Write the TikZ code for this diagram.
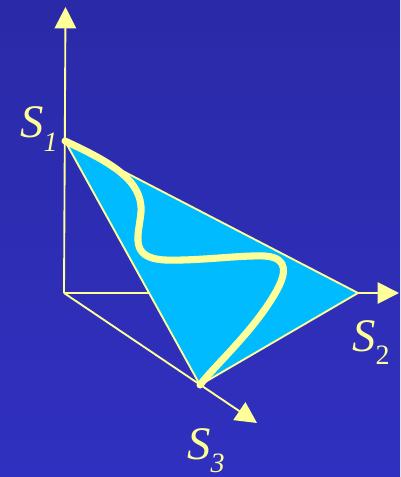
\documentclass[tikz,border=0pt]{standalone}
\usepackage{fontspec}
\setmainfont{Liberation Serif}
\usetikzlibrary{arrows.meta}
\definecolor{bgtop}{HTML}{2A2AA8}
\definecolor{bgbot}{HTML}{3030C0}
\definecolor{lyel}{HTML}{FFFF99}
\definecolor{cyanfill}{HTML}{00BBFF}
\tikzset{
  axisline/.style={draw=lyel, line width=1.4pt, -{Triangle[length=16pt,width=16pt]}, lyel},
  edgeline/.style={draw=lyel, line width=1.4pt, line join=round},
  pathline/.style={draw=lyel, line width=5.3pt, line cap=round, line join=round},
  lab/.style={text=lyel, inner sep=0pt, anchor=base west}
}
\newcommand{\lbl}[1]{{\fontsize{35}{35}\selectfont\itshape S}\raisebox{-10pt}{\fontsize{21}{21}\selectfont #1}}
\begin{document}
\begin{tikzpicture}[x=0.75pt,y=-0.75pt]
\fill[top color=bgtop,bottom color=bgbot] (0,0) rectangle (400,477);
\useasboundingbox (0,0) rectangle (400,477);
\coordinate (O) at (64,293);
\coordinate (Ytip) at (65.5,7);
\coordinate (Xtip) at (399,293);
\coordinate (Ztip) at (257,423);
\coordinate (S1) at (65,141);
\coordinate (S2) at (358,293);
\coordinate (S3) at (200,385);
\draw[axisline] (O) -- (Ytip);
\draw[axisline] (O) -- (Xtip);
\draw[axisline] (O) -- (Ztip);
\fill[cyanfill] (S1) -- (S2) -- (S3) -- cycle;
\draw[edgeline] (S1) -- (S2) -- (S3) -- cycle;
\draw[pathline] (S1) .. controls (110,162) and (143,180) .. (141,212)
  .. controls (139,235) and (128,258) .. (165,260)
  .. controls (200,261) and (240,255) .. (265,256)
  .. controls (290,258) and (285,275) .. (277,290)
  .. controls (255,330) and (215,365) .. (S3);
\node[lab] (L1) at (20,138) {\lbl{\itshape 1}};
\node[lab] (L2) at (352,351) {\lbl{2}};
\node[lab] (L3) at (187,459) {\lbl{\itshape 3}};
\end{tikzpicture}
\end{document}
